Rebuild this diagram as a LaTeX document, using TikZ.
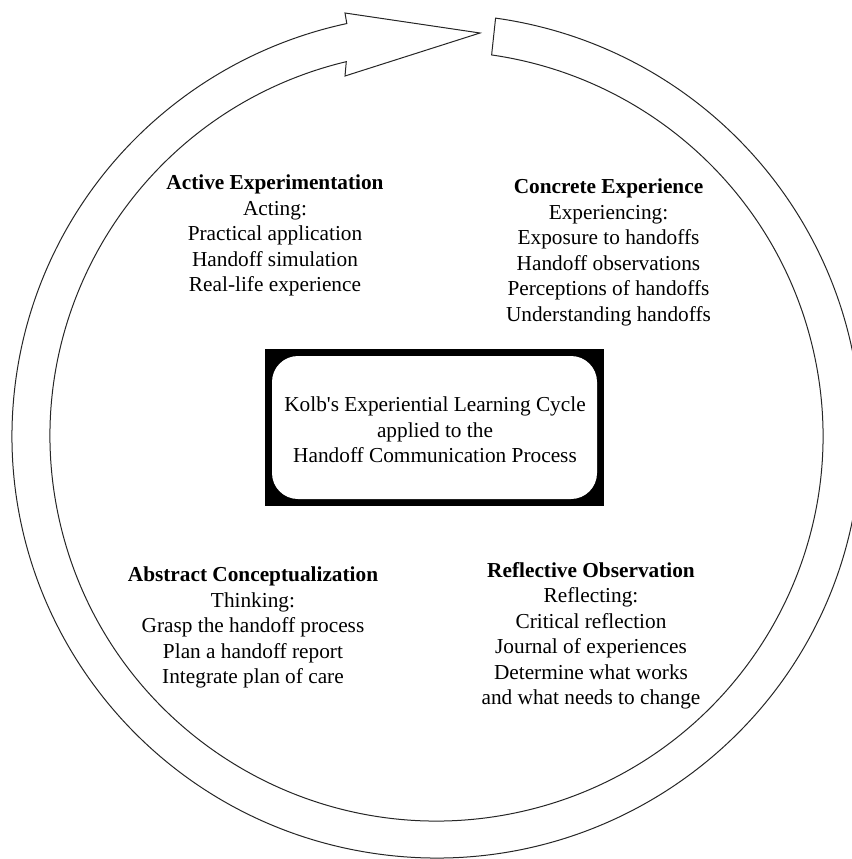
\documentclass[tikz,border=0pt]{standalone}
\usepackage{fontspec}
\setmainfont{Liberation Serif}
\begin{document}
\begin{tikzpicture}[x=1pt,y=-1pt,
  ring/.style={draw=black!85,line width=1pt,fill=white,line join=miter},
  lbl/.style={align=center,font=\fontsize{21.3}{25.5}\selectfont,inner sep=0pt,anchor=north,text=black},
  framebox/.style={fill=black},
  innerbox/.style={fill=white,rounded corners=26pt}]
\useasboundingbox (0,0) rectangle (851,859);
\coordinate (c) at (436.5,436);
% circular arrow band
\draw[ring] (c) ++(-82:424.5 and 422)
  arc[start angle=-82,end angle=257.8,x radius=424.5,y radius=422]
  coordinate (notchout) -- (345,13) coordinate (backtop)
  -- (480,33) coordinate (tip)
  -- (345,76) coordinate (backbot)
  -- ([shift={(256.5:386.5 and 385)}]c) coordinate (notchin)
  arc[start angle=256.5,end angle=-81.8,x radius=386.5,y radius=385]
  -- cycle;
% central box
\fill[framebox] (265,349) rectangle (604,506);
\fill[innerbox] (272,356) rectangle (597,499);
\node[lbl] (kolb) at (435,397) {Kolb\textquotesingle s Experiential Learning Cycle\\applied to the\\Handoff Communication Process};
% quadrant texts
\node[lbl] (ae) at (275,175) {\textbf{Active Experimentation}\\Acting:\\Practical application\\Handoff simulation\\Real-life experience};
\node[lbl] (ce) at (608.5,179) {\textbf{Concrete Experience}\\Experiencing:\\Exposure to handoffs\\Handoff observations\\Perceptions of handoffs\\Understanding handoffs};
\node[lbl] (ac) at (253,567) {\textbf{Abstract Conceptualization}\\Thinking:\\Grasp the handoff process\\Plan a handoff report\\Integrate plan of care};
\node[lbl] (ro) at (591,562) {\textbf{Reflective Observation}\\Reflecting:\\Critical reflection\\Journal of experiences\\Determine what works\\and what needs to change};
\end{tikzpicture}
\end{document}
